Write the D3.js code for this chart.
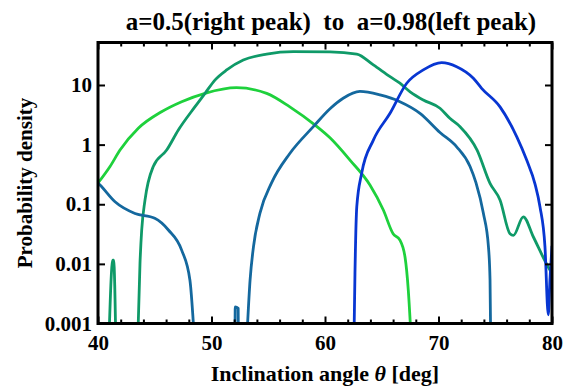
<!DOCTYPE html>
<html><head><meta charset="utf-8">
<script src="https://cdn.jsdelivr.net/npm/d3@7"></script>
<style>
html,body{margin:0;padding:0;background:#fff;}
svg text{font-family:"Liberation Serif","Times New Roman",serif;font-weight:bold;fill:#000;}
</style></head>
<body><svg id="c" width="588" height="389"></svg>
<script>
// ---- data ----
const titleText = "a=0.5(right peak)  to  a=0.98(left peak)";
const xTicks = [40, 50, 60, 70, 80];
const xMinorTicks = [42,44,46,48,52,54,56,58,62,64,66,68,72,74,76,78];
const yTicks = [0.001, 0.01, 0.1, 1, 10];
const yTickLabels = ["0.001", "0.01", "0.1", "1", "10"];

// a = 0.98 (left peak), bright green
const greenTheta   = [40.0, 41.06, 41.94, 43.55, 45.6, 47.37, 49.43, 52.2, 54.86, 56.9, 59.1, 60.44, 62.2, 63.96, 65.14, 66.0, 66.6, 67.05, 67.34, 67.6];
const greenDensity = [0.227, 0.43, 0.81, 1.88, 3.56, 5.25, 7.25, 9.0, 7.25, 4.3, 2.14, 1.3, 0.55, 0.21, 0.08, 0.032, 0.025, 0.013, 0.0036, 0.0005];

// teal green (broad plateau)
const tealTheta   = [40.96, 41.3, 41.38, 41.57, null, 43.5, 43.7, 43.85, 44.14, 44.87, 46.05, 47.08, 48.55, 49.43, 50.3, 51.34, 52.8, 54.86, 57.2, 60.44, 62.8, 64.26, 65.73, 66.6, 67.5, 68.66, 70.13, 71.0, 71.9, 73.4, 74.54, 75.42, 76.3, 76.6, 77.47, 78.35, 79.82, 80.0];
const tealDensity = [0.0005, 0.0115, 0.0115, 0.0005, null, 0.0005, 0.0102, 0.037, 0.117, 0.43, 0.81, 1.76, 4.33, 7.25, 12.1, 17.9, 26.2, 33, 36.3, 36, 33, 21.7, 13.8, 10.7, 7.7, 5.6, 4.07, 2.76, 2.0, 0.81, 0.224, 0.118, 0.032, 0.030, 0.0616, 0.0285, 0.0079, 0.007];

// blue-teal (peak near 63)
const steelTheta   = [40.0, 40.18, 41.5, 43.26, 45.0, 46.2, 47.37, 48.1, 48.5, null, 52.07, 52.09, 52.35, 52.37, null, 53.1, 53.4, 53.7, 54.27, 55.3, 56.9, 58.97, 60.44, 61.6, 63.08, 64.85, 66.6, 68.37, 70.13, 71.6, 72.78, 73.3, 73.95, 74.4, 74.54, 74.6];
const steelDensity = [0.227, 0.21, 0.11, 0.07, 0.058, 0.037, 0.017, 0.0053, 0.0005, null, 0.0005, 0.0019, 0.0018, 0.0005, null, 0.0005, 0.0054, 0.0195, 0.071, 0.23, 0.71, 2.0, 4.0, 6.0, 7.8, 6.8, 5.25, 3.35, 1.6, 0.92, 0.43, 0.23, 0.071, 0.0195, 0.0054, 0.0005];

// a = 0.5 (right peak), blue
const blueTheta   = [62.55, 62.64, 62.8, 63.23, 64.26, 65.73, 67.2, 68.66, 70.28, 71.6, 73.07, 73.8, 75.42, 76.9, 77.77, 78.5, 78.94, 79.38, 79.67, 79.82, 80.0];
const blueDensity = [0.0005, 0.0069, 0.091, 0.33, 1.19, 3.35, 10.7, 17.9, 23.7, 20.3, 13, 8.8, 4.3, 1.35, 0.55, 0.22, 0.091, 0.0195, 0.0014, 0.0054, 0.02];

const seriesColors = ["#1ed13c", "#0f9a68", "#14689e", "#0836d2"];

// ---- layout ----
const L = 98, R = 552, T = 42.5, B = 323.5;
const svg = d3.select("#c");
const x = d3.scaleLinear().domain([40, 80]).range([L, R]);
const y = d3.scaleLog().domain([0.001, 51.6]).range([B, T]);

svg.append("defs").append("clipPath").attr("id", "clip")
  .append("rect").attr("x", L).attr("y", T).attr("width", R - L).attr("height", B - T);

const series = [
  [greenTheta, greenDensity],
  [tealTheta, tealDensity],
  [steelTheta, steelDensity],
  [blueTheta, blueDensity]
];
const line = d3.line()
  .defined(d => d[0] !== null)
  .x(d => x(d[0])).y(d => y(d[1]))
  .curve(d3.curveMonotoneX);

const g = svg.append("g").attr("clip-path", "url(#clip)");
series.forEach((s, i) => {
  const pts = s[0].map((t, k) => [t, s[1][k]]);
  g.append("path").datum(pts)
    .attr("d", line)
    .attr("fill", "none")
    .attr("stroke", seriesColors[i])
    .attr("stroke-width", 2.8)
    .attr("stroke-linejoin", "round");
});

// axes with inward ticks on all sides
const fs = 21;
const axBottom = svg.append("g").attr("transform", `translate(0,${B})`)
  .call(d3.axisBottom(x).tickValues(xTicks).tickSize(-7).tickPadding(12).tickFormat(d3.format("d")));
const axBottomMinor = svg.append("g").attr("transform", `translate(0,${B})`)
  .call(d3.axisBottom(x).tickValues(xMinorTicks).tickSize(-4).tickFormat(""));
const axTop = svg.append("g").attr("transform", `translate(0,${T})`)
  .call(d3.axisTop(x).tickValues(xTicks).tickSize(-7).tickFormat(""));
const axTopMinor = svg.append("g").attr("transform", `translate(0,${T})`)
  .call(d3.axisTop(x).tickValues(xMinorTicks).tickSize(-4).tickFormat(""));
const axLeft = svg.append("g").attr("transform", `translate(${L},0)`)
  .call(d3.axisLeft(y).tickValues(yTicks).tickSize(-7).tickPadding(6)
    .tickFormat((d, i) => yTickLabels[i]));
const axRight = svg.append("g").attr("transform", `translate(${R},0)`)
  .call(d3.axisRight(y).tickValues(yTicks).tickSize(-7).tickFormat(""));

[axBottom, axBottomMinor, axTop, axTopMinor, axLeft, axRight].forEach(a => {
  a.select(".domain").remove();
  a.selectAll("line").attr("stroke", "#000").attr("stroke-width", 2);
  a.selectAll("text").style("font-size", fs + "px").style("font-family", "Liberation Serif, serif").style("font-weight", "bold");
});

// frame
svg.append("rect").attr("x", L).attr("y", T).attr("width", R - L).attr("height", B - T)
  .attr("fill", "none").attr("stroke", "#000").attr("stroke-width", 3);

// title and labels
svg.append("text").attr("x", 331).attr("y", 30).attr("text-anchor", "middle")
  .style("font-size", "25px").style("white-space", "pre").text(titleText);
const xl = svg.append("text").attr("x", 325).attr("y", 381).attr("text-anchor", "middle")
  .style("font-size", "22px");
xl.append("tspan").text("Inclination angle ");
xl.append("tspan").style("font-style", "italic").text("θ");
xl.append("tspan").text(" [deg]");
svg.append("text").attr("transform", `translate(32,${(T + B) / 2}) rotate(-90)`)
  .attr("text-anchor", "middle").style("font-size", "21px").text("Probability density");
</script></body></html>
